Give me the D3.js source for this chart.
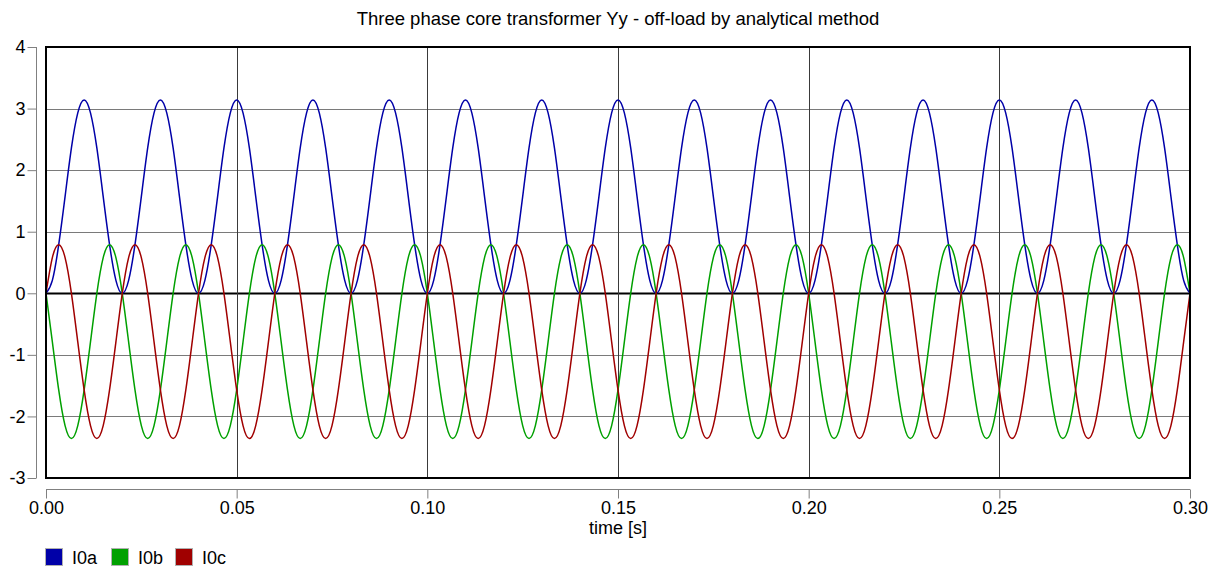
<!DOCTYPE html>
<html>
<head>
<meta charset="utf-8">
<script src="https://cdn.jsdelivr.net/npm/d3@7"></script>
<style>
  html, body { margin: 0; padding: 0; background: #fff; }
  svg { display: block; font-family: "Liberation Sans", Arial, sans-serif; }
</style>
</head>
<body>
<svg id="chart" width="1223" height="568"></svg>
<script>
// ---- data ----
const title = "Three phase core transformer Yy - off-load by analytical method";
const xLabel = "time [s]";
const seriesNames = ["I0a", "I0b", "I0c"];
const seriesColors = ["#0000a8", "#00a000", "#a00000"];
const xTicks = [0, 0.05, 0.10, 0.15, 0.20, 0.25, 0.30];
const yTicks = [-3, -2, -1, 0, 1, 2, 3, 4];
const sampleStep = 0.02 / 12; // seconds between samples

const I0a = [
  0, 0.21, 0.79, 1.57, 2.36, 2.93, 3.14, 2.93, 2.36, 1.57, 0.79, 0.21,
  0, 0.21, 0.79, 1.57, 2.36, 2.93, 3.14, 2.93, 2.36, 1.57, 0.79, 0.21,
  0, 0.21, 0.79, 1.57, 2.36, 2.93, 3.14, 2.93, 2.36, 1.57, 0.79, 0.21,
  0, 0.21, 0.79, 1.57, 2.36, 2.93, 3.14, 2.93, 2.36, 1.57, 0.79, 0.21,
  0, 0.21, 0.79, 1.57, 2.36, 2.93, 3.14, 2.93, 2.36, 1.57, 0.79, 0.21,
  0, 0.21, 0.79, 1.57, 2.36, 2.93, 3.14, 2.93, 2.36, 1.57, 0.79, 0.21,
  0, 0.21, 0.79, 1.57, 2.36, 2.93, 3.14, 2.93, 2.36, 1.57, 0.79, 0.21,
  0, 0.21, 0.79, 1.57, 2.36, 2.93, 3.14, 2.93, 2.36, 1.57, 0.79, 0.21,
  0, 0.21, 0.79, 1.57, 2.36, 2.93, 3.14, 2.93, 2.36, 1.57, 0.79, 0.21,
  0, 0.21, 0.79, 1.57, 2.36, 2.93, 3.14, 2.93, 2.36, 1.57, 0.79, 0.21,
  0, 0.21, 0.79, 1.57, 2.36, 2.93, 3.14, 2.93, 2.36, 1.57, 0.79, 0.21,
  0, 0.21, 0.79, 1.57, 2.36, 2.93, 3.14, 2.93, 2.36, 1.57, 0.79, 0.21,
  0, 0.21, 0.79, 1.57, 2.36, 2.93, 3.14, 2.93, 2.36, 1.57, 0.79, 0.21,
  0, 0.21, 0.79, 1.57, 2.36, 2.93, 3.14, 2.93, 2.36, 1.57, 0.79, 0.21,
  0, 0.21, 0.79, 1.57, 2.36, 2.93, 3.14, 2.93, 2.36, 1.57, 0.79, 0.21,
  0
];
const I0b = [
  0, -0.79, -1.57, -2.15, -2.36, -2.15, -1.57, -0.79, 0, 0.58, 0.79, 0.58,
  0, -0.79, -1.57, -2.15, -2.36, -2.15, -1.57, -0.79, 0, 0.58, 0.79, 0.58,
  0, -0.79, -1.57, -2.15, -2.36, -2.15, -1.57, -0.79, 0, 0.58, 0.79, 0.58,
  0, -0.79, -1.57, -2.15, -2.36, -2.15, -1.57, -0.79, 0, 0.58, 0.79, 0.58,
  0, -0.79, -1.57, -2.15, -2.36, -2.15, -1.57, -0.79, 0, 0.58, 0.79, 0.58,
  0, -0.79, -1.57, -2.15, -2.36, -2.15, -1.57, -0.79, 0, 0.58, 0.79, 0.58,
  0, -0.79, -1.57, -2.15, -2.36, -2.15, -1.57, -0.79, 0, 0.58, 0.79, 0.58,
  0, -0.79, -1.57, -2.15, -2.36, -2.15, -1.57, -0.79, 0, 0.58, 0.79, 0.58,
  0, -0.79, -1.57, -2.15, -2.36, -2.15, -1.57, -0.79, 0, 0.58, 0.79, 0.58,
  0, -0.79, -1.57, -2.15, -2.36, -2.15, -1.57, -0.79, 0, 0.58, 0.79, 0.58,
  0, -0.79, -1.57, -2.15, -2.36, -2.15, -1.57, -0.79, 0, 0.58, 0.79, 0.58,
  0, -0.79, -1.57, -2.15, -2.36, -2.15, -1.57, -0.79, 0, 0.58, 0.79, 0.58,
  0, -0.79, -1.57, -2.15, -2.36, -2.15, -1.57, -0.79, 0, 0.58, 0.79, 0.58,
  0, -0.79, -1.57, -2.15, -2.36, -2.15, -1.57, -0.79, 0, 0.58, 0.79, 0.58,
  0, -0.79, -1.57, -2.15, -2.36, -2.15, -1.57, -0.79, 0, 0.58, 0.79, 0.58,
  0
];
const I0c = [
  0, 0.58, 0.79, 0.58, 0, -0.79, -1.57, -2.15, -2.36, -2.15, -1.57, -0.79,
  0, 0.58, 0.79, 0.58, 0, -0.79, -1.57, -2.15, -2.36, -2.15, -1.57, -0.79,
  0, 0.58, 0.79, 0.58, 0, -0.79, -1.57, -2.15, -2.36, -2.15, -1.57, -0.79,
  0, 0.58, 0.79, 0.58, 0, -0.79, -1.57, -2.15, -2.36, -2.15, -1.57, -0.79,
  0, 0.58, 0.79, 0.58, 0, -0.79, -1.57, -2.15, -2.36, -2.15, -1.57, -0.79,
  0, 0.58, 0.79, 0.58, 0, -0.79, -1.57, -2.15, -2.36, -2.15, -1.57, -0.79,
  0, 0.58, 0.79, 0.58, 0, -0.79, -1.57, -2.15, -2.36, -2.15, -1.57, -0.79,
  0, 0.58, 0.79, 0.58, 0, -0.79, -1.57, -2.15, -2.36, -2.15, -1.57, -0.79,
  0, 0.58, 0.79, 0.58, 0, -0.79, -1.57, -2.15, -2.36, -2.15, -1.57, -0.79,
  0, 0.58, 0.79, 0.58, 0, -0.79, -1.57, -2.15, -2.36, -2.15, -1.57, -0.79,
  0, 0.58, 0.79, 0.58, 0, -0.79, -1.57, -2.15, -2.36, -2.15, -1.57, -0.79,
  0, 0.58, 0.79, 0.58, 0, -0.79, -1.57, -2.15, -2.36, -2.15, -1.57, -0.79,
  0, 0.58, 0.79, 0.58, 0, -0.79, -1.57, -2.15, -2.36, -2.15, -1.57, -0.79,
  0, 0.58, 0.79, 0.58, 0, -0.79, -1.57, -2.15, -2.36, -2.15, -1.57, -0.79,
  0, 0.58, 0.79, 0.58, 0, -0.79, -1.57, -2.15, -2.36, -2.15, -1.57, -0.79,
  0
];

// ---- layout ----
const svg = d3.select("#chart");
const L = 46, R = 1190, T = 47, B = 478;
const x = d3.scaleLinear().domain([0, 0.3]).range([L, R]);
const y = d3.scaleLinear().domain([-3, 4]).range([B, T]);

// title
svg.append("text")
  .attr("x", (L + R) / 2).attr("y", 25)
  .attr("text-anchor", "middle")
  .attr("font-size", 18.5).attr("fill", "#000")
  .text(title);

// grid
const grid = svg.append("g");
grid.selectAll("line.h").data(yTicks).join("line")
  .attr("x1", L).attr("x2", R)
  .attr("y1", d => Math.round(y(d)) + 0.5).attr("y2", d => Math.round(y(d)) + 0.5)
  .attr("stroke", d => d === 0 ? "#000" : "#7a7a7a")
  .attr("stroke-width", d => d === 0 ? 2 : 1);
grid.selectAll("line.v").data(xTicks).join("line")
  .attr("y1", T).attr("y2", B)
  .attr("x1", d => Math.round(x(d)) + 0.5).attr("x2", d => Math.round(x(d)) + 0.5)
  .attr("stroke", "#3a3a3a").attr("stroke-width", 1);

// series
svg.append("clipPath").attr("id", "clip")
  .append("rect").attr("x", L).attr("y", T).attr("width", R - L).attr("height", B - T);
const allSeries = [I0a, I0b, I0c];
const line = d3.line()
  .x((d, i) => x(i * sampleStep))
  .y(d => y(d))
  .curve(d3.curveNatural);
svg.append("g").attr("clip-path", "url(#clip)")
  .selectAll("path").data(allSeries).join("path")
  .attr("d", d => line(d))
  .attr("fill", "none")
  .attr("stroke", (d, i) => seriesColors[i])
  .attr("stroke-width", 1.5);

// frame
svg.append("rect")
  .attr("x", L).attr("y", T).attr("width", R - L).attr("height", B - T)
  .attr("fill", "none").attr("stroke", "#000").attr("stroke-width", 2);

// y axis (detached)
const yAxis = d3.axisLeft(y).tickValues(yTicks).tickSize(9).tickPadding(2)
  .tickFormat(d => d < 0 ? "-" + Math.abs(d) : String(d));
const gy = svg.append("g").attr("transform", "translate(36.5,0)").call(yAxis);
gy.select(".domain").attr("stroke", "#808080").attr("d", `M-0,${y(4)}V${y(-3)}`);
gy.selectAll(".tick line").attr("stroke", "#808080");
gy.selectAll(".tick text").attr("font-size", 18).attr("fill", "#000")
  .attr("font-family", "Liberation Sans, Arial, sans-serif");

// x axis (detached)
const xAxis = d3.axisBottom(x).tickValues(xTicks).tickSize(9).tickPadding(3)
  .tickFormat(d3.format(".2f"));
const gx = svg.append("g").attr("transform", "translate(0,489.5)").call(xAxis);
gx.select(".domain").attr("stroke", "#808080").attr("d", `M${L},0H${R}`);
gx.selectAll(".tick line").attr("stroke", "#808080");
gx.selectAll(".tick text").attr("font-size", 18).attr("fill", "#000")
  .attr("font-family", "Liberation Sans, Arial, sans-serif");

// x label
svg.append("text")
  .attr("x", (L + R) / 2).attr("y", 534)
  .attr("text-anchor", "middle")
  .attr("font-size", 18).attr("fill", "#000")
  .text(xLabel);

// legend
const legendX = [45, 111, 175];
const lg = svg.append("g").selectAll("g").data(seriesNames).join("g")
  .attr("transform", (d, i) => `translate(${legendX[i]},548)`);
lg.append("rect").attr("x", 0.5).attr("y", 0.5).attr("width", 17).attr("height", 17)
  .attr("fill", (d, i) => seriesColors[i]).attr("stroke", "#b0b0b0");
lg.append("text").attr("x", 27).attr("y", 15.5)
  .attr("font-size", 18).attr("fill", "#000").text(d => d);
</script>
</body>
</html>
